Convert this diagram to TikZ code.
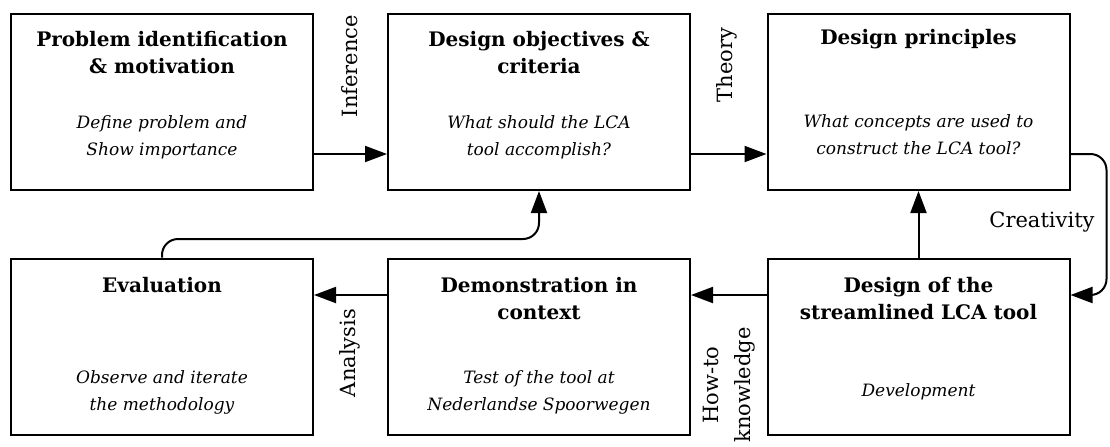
\documentclass[tikz,border=0pt]{standalone}
\usepackage{fontspec}
\setmainfont{DejaVu Serif}
\usetikzlibrary{arrows.meta,positioning,calc}

\begin{document}
\begin{tikzpicture}[
    x=0.5pt, y=-0.5pt,
    stage/.style={rectangle, draw, line width=1pt, minimum width=151pt, minimum height=88pt, inner sep=0pt},
    heading/.style={font=\bfseries\fontsize{10}{13.5}\selectfont, align=center},
    body/.style={font=\itshape\fontsize{8.5}{13.5}\selectfont, align=center},
    tag/.style={font=\fontsize{10.5}{16}\selectfont, align=center},
    arrow/.style={-{Triangle[length=11pt,width=8pt]}, line width=1pt, rounded corners=8pt}
]
    \useasboundingbox (0,0) rectangle (1110,446);

    % Stage boxes
    \node[stage] (p1) at (162,102) {};
    \node[stage] (p2) at (539,102) {};
    \node[stage] (p3) at (918.5,102) {};
    \node[stage] (p4) at (162,346.5) {};
    \node[stage] (p5) at (539,346.5) {};
    \node[stage] (p6) at (918.5,346.5) {};

    % Headings
    \node[heading] (h1) at ($(p1.north)+(0,40)$) {Problem identification\\\& motivation};
    \node[heading] (h2) at ($(p2.north)+(0,40)$) {Design objectives \&\\criteria};
    \node[heading] (h3) at ($(p3.north)+(0,26)$) {Design principles};
    \node[heading] (h4) at ($(p4.north)+(0,28)$) {Evaluation};
    \node[heading] (h5) at ($(p5.north)+(0,41)$) {Demonstration in\\context};
    \node[heading] (h6) at ($(p6.north)+(0,41)$) {Design of the\\streamlined LCA tool};

    % Descriptions
    \node[body] (b1) at ($(p1.north)+(0,124)$) {Define problem and\\Show importance};
    \node[body] (b2) at ($(p2.north)+(0,124)$) {What should the LCA\\tool accomplish?};
    \node[body] (b3) at ($(p3.north)+(0,122)$) {What concepts are used to\\construct the LCA tool?};
    \node[body] (b4) at ($(p4.north)+(0,135)$) {Observe and iterate\\the methodology};
    \node[body] (b5) at ($(p5.north)+(0,135)$) {Test of the tool  at\\Nederlandse Spoorwegen};
    \node[body] (b6) at ($(p6.north)+(0,134)$) {Development};

    % Arrows
    \draw[arrow] ($(p1.east)+(0,52)$) -- ($(p2.west)+(0,52)$);
    \draw[arrow] ($(p2.east)+(0,52)$) -- ($(p3.west)+(0,52)$);
    \draw[arrow] ($(p3.east)+(0,52)$) -- ++(36,0) -- ++(0,141) -- ($(p6.east)+(0,-51.5)$);
    \draw[arrow] (p6) -- (p3);
    \draw[arrow] ($(p6.west)+(0,-51.5)$) -- ($(p5.east)+(0,-51.5)$);
    \draw[arrow] ($(p5.west)+(0,-51.5)$) -- ($(p4.east)+(0,-51.5)$);
    \draw[arrow] (p4.north) |- ($(p2.south)+(0,48)$) -- (p2.south);

    % Labels
    \node[tag, rotate=90] (inference) at (350,66) {Inference};
    \node[tag, rotate=90] (theory) at (727,65) {Theory};
    \node[tag] (creativity) at (1042,222) {Creativity};
    \node[tag, rotate=90] (analysis) at (350,353) {Analysis};
    \node[tag, rotate=90] (howto) at (729,385) {How-to\\knowledge};

\end{tikzpicture}
\end{document}
